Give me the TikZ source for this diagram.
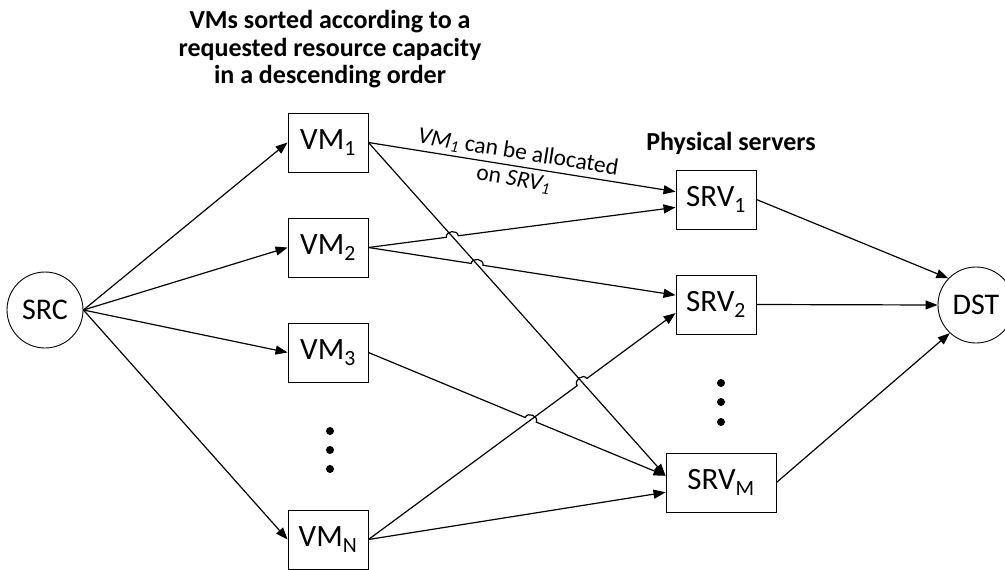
\documentclass[tikz,border=0pt]{standalone}
\usepackage{fontspec}
\setmainfont{Carlito}
\usepackage{tikz}
\usetikzlibrary{calc,arrows.meta,intersections,positioning}
\tikzset{
	box/.style={draw, line width=0.9pt, minimum width=80pt, minimum height=59pt, inner sep=0pt, font=\fontsize{31}{33}\selectfont},
	hub/.style={draw, circle, line width=0.9pt, minimum size=76pt, inner sep=0pt, font=\fontsize{30}{32}\selectfont},
	link/.style={line width=1.2pt, -{Triangle[length=12pt,width=9pt]}},
	hop/.style={bend left=90, looseness=1.4},
	heading/.style={align=center, font=\bfseries\fontsize{26}{27.5}\selectfont},
	note/.style={align=center, font=\fontsize{23.5}{27}\selectfont},
	dot/.style={fill, circle, inner sep=0pt, minimum size=8pt}
}

\begin{document}
\begin{tikzpicture}[x=1pt, y=-1pt]
			%%%%% START %%%%%
			\useasboundingbox (0,0) rectangle (1005,570);
			
			\node[hub] (src) at (45,310) {SRC};
			\node[hub] (dst) at (976,305) {DST};
			
			\node[box] (vm1) at (328,142.5) {VM\textsubscript{1}};
			\node[box] (vm2) at (328,247.5) {VM\textsubscript{2}};
			\node[box] (vm3) at (328,352.5) {VM\textsubscript{3}};
			\node[box] (vmN) at (328,539.5) {VM\textsubscript{N}};
			
			\node[box] (srv1) at (716,199.5) {SRV\textsubscript{1}};
			\node[box] (srv2) at (716,304.5) {SRV\textsubscript{2}};
			\node[box, minimum width=110pt] (srvM) at (721,482.5) {SRV\textsubscript{M}};
			
			\foreach \y in {431,450,469} \node[dot] (vd\y) at (330,\y) {};
			\foreach \y in {383,402,422} \node[dot] (sd\y) at (721,\y) {};
			
			\node[heading] (sorted) at (330,49.5) {VMs sorted according to a\\requested resource capacity\\in a descending order};
			\node[heading] (phys) at (731,143) {Physical servers};
			
			\foreach \v in {vm1,vm2,vm3,vmN} \draw[link] (src.east) -- (\v.west);
			
			\draw[link] (vm1.east) -- node[note, sloped, pos=0.48] {\textit{VM\textsubscript{1}} can be allocated\\on \textit{SRV\textsubscript{1}}} (srv1.169);
			\draw[link, name path=long] (vm1.east) -- (srvM.173);
			
			\path[name path=v2s1] (vm2.east) -- (srv1.191);
			\path[name path=v2s2] (vm2.east) -- (srv2.167);
			\path[name path=vNs2] (vmN.east) -- (srv2.192);
			\path[name path=v3sM] (vm3.east) -- (srvM.173);
			
			\path[name intersections={of=long and v2s1, by=h1}];
			\path[name intersections={of=long and v2s2, by=h2}];
			\path[name intersections={of=long and vNs2, by=h3}];
			\path[name intersections={of=vNs2 and v3sM, by=h4}];
			
			\draw[link] (vm2.east) -- ($(h1)!6pt!(vm2.east)$) to[hop] ($(h1)!6pt!(srv1.191)$) -- (srv1.191);
			\draw[link] (vm2.east) -- ($(h2)!6pt!(vm2.east)$) to[hop] ($(h2)!6pt!(srv2.167)$) -- (srv2.167);
			\draw[link] (vm3.east) -- ($(h4)!6pt!(vm3.east)$) to[hop] ($(h4)!6pt!(srvM.173)$) -- (srvM.173);
			\draw[link] (vmN.east) -- ($(h3)!6pt!(vmN.east)$) to[hop] ($(h3)!6pt!(srv2.192)$) -- (srv2.192);
			\draw[link] (vmN.east) -- (srvM.190);
			
			\draw[link] (srv1.east) -- (dst.136);
			\draw[link] (srv2.east) -- (dst.west);
			\draw[link] (srvM.east) -- (dst.227);
			
			%%%%% END %%%%%
\end{tikzpicture}
\end{document}
